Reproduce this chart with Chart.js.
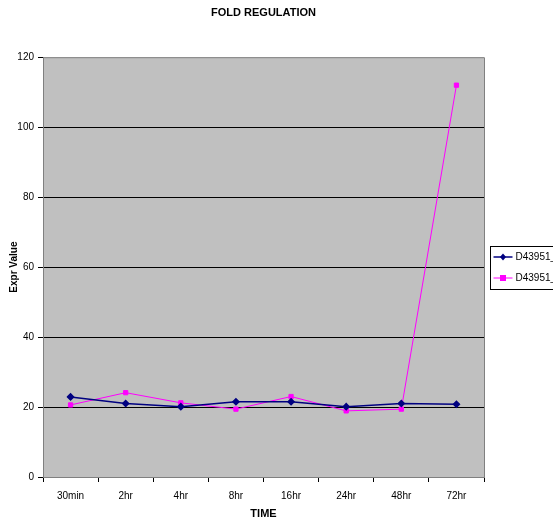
<!DOCTYPE html>
<html lang="en">
<head>
    <meta charset="UTF-8">
    <title>Fold Regulation</title>
    <style>
        body { margin: 0; background: #fff; overflow: hidden; }
        #chart-container { width: 553px; height: 523px; }
    </style>
    <script src="https://cdn.jsdelivr.net/npm/chart.js"></script>
</head>
<body>
<div id="chart-container">
    <canvas id="foldChart" width="553" height="523"></canvas>
</div>
<script>
    const timePoints = ['30min', '2hr', '4hr', '8hr', '16hr', '24hr', '48hr', '72hr'];
    const probeA = [22.9, 21.0, 20.1, 21.5, 21.5, 20.1, 21.0, 20.8];
    const probeB = [20.6, 24.1, 21.2, 19.4, 23.0, 18.9, 19.4, 112];
    const seriesNames = ['D43951_at', 'D43951_at'];
    const yTicks = [0, 20, 40, 60, 80, 100, 120];

    const fontFamily = '"Liberation Sans Narrow", "Liberation Sans", Arial, sans-serif';

    // grey plot area + frame, and the boxed legend on the right (clipped by the page edge)
    const excelLook = {
        id: 'excelLook',
        beforeDraw(chart) {
            const { ctx, chartArea: a } = chart;
            ctx.save();
            ctx.fillStyle = '#c0c0c0';
            ctx.fillRect(a.left, a.top, a.right - a.left, a.bottom - a.top);
            ctx.restore();
        },
        afterDraw(chart) {
            const { ctx, chartArea: a } = chart;
            ctx.save();
            ctx.strokeStyle = '#808080';
            ctx.lineWidth = 1;
            ctx.beginPath();
            ctx.moveTo(a.left, a.top + 0.5);
            ctx.lineTo(a.right + 0.5, a.top + 0.5);
            ctx.lineTo(a.right + 0.5, a.bottom);
            ctx.stroke();

            const boxX = a.right + 6.5, boxY = (a.top + a.bottom) / 2 - 21;
            ctx.fillStyle = '#fff';
            ctx.fillRect(boxX, boxY, 90, 43);
            ctx.strokeStyle = '#000';
            ctx.strokeRect(boxX, Math.round(boxY) + 0.5, 90, 43);
            chart.data.datasets.forEach((ds, i) => {
                const y = Math.round(boxY) + 11 + i * 21;
                ctx.strokeStyle = ds.borderColor;
                ctx.lineWidth = ds.borderWidth;
                ctx.beginPath();
                ctx.moveTo(boxX + 3, y);
                ctx.lineTo(boxX + 22, y);
                ctx.stroke();
                ctx.fillStyle = ds.pointBackgroundColor;
                ctx.beginPath();
                if (ds.pointStyle === 'rect') {
                    ctx.rect(boxX + 9.5, y - 3, 6, 6);
                } else {
                    ctx.moveTo(boxX + 12.5, y - 3.5);
                    ctx.lineTo(boxX + 15.5, y);
                    ctx.lineTo(boxX + 12.5, y + 3.5);
                    ctx.lineTo(boxX + 9.5, y);
                    ctx.closePath();
                }
                ctx.fill();
                ctx.fillStyle = '#000';
                ctx.font = '10px ' + fontFamily;
                ctx.textBaseline = 'middle';
                ctx.fillText(ds.label, boxX + 25, y);
            });
            ctx.restore();
        }
    };

    new Chart(document.getElementById('foldChart').getContext('2d'), {
        type: 'line',
        data: {
            labels: timePoints,
            datasets: [
                {
                    label: seriesNames[0],
                    data: probeA,
                    borderColor: '#000080',
                    backgroundColor: '#000080',
                    pointBackgroundColor: '#000080',
                    pointBorderColor: '#000080',
                    pointStyle: 'rectRot',
                    pointRadius: 3,
                    borderWidth: 1.5,
                    tension: 0
                },
                {
                    label: seriesNames[1],
                    data: probeB,
                    borderColor: '#ff00ff',
                    backgroundColor: '#ff00ff',
                    pointBackgroundColor: '#ff00ff',
                    pointBorderColor: '#ff00ff',
                    pointStyle: 'rect',
                    pointRadius: 3,
                    borderWidth: 1,
                    tension: 0
                }
            ]
        },
        options: {
            responsive: false,
            animation: false,
            layout: { padding: { left: 0, right: 26, top: 0, bottom: 0 } },
            plugins: {
                legend: { display: false },
                tooltip: { enabled: false },
                title: {
                    display: true,
                    text: 'FOLD REGULATION',
                    color: '#000',
                    font: { family: fontFamily, size: 11, weight: 'bold' },
                    padding: { top: 6, bottom: 38 }
                }
            },
            scales: {
                x: {
                    offset: true,
                    title: {
                        display: true,
                        text: 'TIME',
                        color: '#000',
                        font: { family: fontFamily, size: 11, weight: 'bold' },
                        padding: { top: 4, bottom: 2 }
                    },
                    grid: { offset: true, drawOnChartArea: false, tickLength: 5, tickColor: '#000' },
                    border: { color: '#808080' },
                    ticks: { color: '#000', padding: 8, font: { family: fontFamily, size: 10 } },
                    afterFit(scale) { scale.height = 46; }
                },
                y: {
                    min: 0,
                    max: 120,
                    afterBuildTicks(scale) { scale.ticks = yTicks.map(v => ({ value: v })); },
                    title: {
                        display: true,
                        text: 'Expr Value',
                        color: '#000',
                        font: { family: fontFamily, size: 10, weight: 'bold' },
                        padding: { top: 8, bottom: 0 }
                    },
                    grid: {
                        color: c => (c.tick && c.tick.value > 0 && c.tick.value < 120) ? '#000' : 'rgba(0,0,0,0)',
                        tickColor: '#000',
                        tickLength: 5
                    },
                    border: { color: '#808080' },
                    ticks: { color: '#000', padding: 4, font: { family: fontFamily, size: 10 } },
                    afterFit(scale) { scale.width = 43; }
                },
                yr: {
                    position: 'right',
                    display: true,
                    grid: { display: false },
                    border: { display: false },
                    ticks: { display: false },
                    afterFit(scale) { scale.width = 43; }
                }
            }
        },
        plugins: [excelLook]
    });
</script>
</body>
</html>
